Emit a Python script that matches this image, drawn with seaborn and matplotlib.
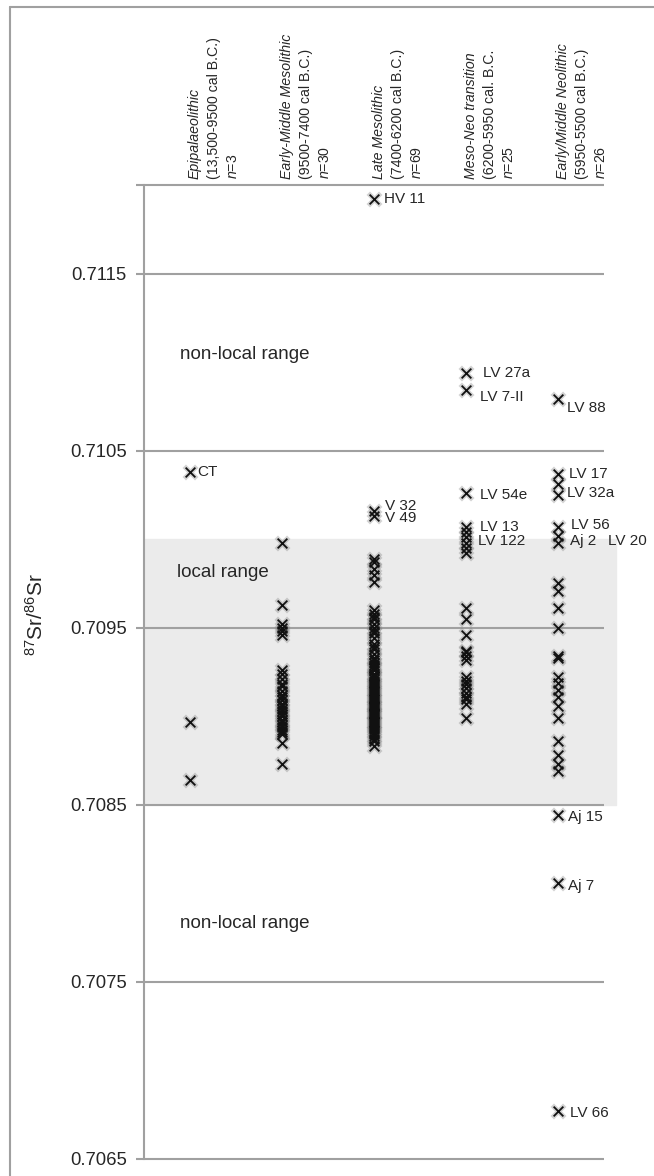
import pandas as pd
import seaborn as sns
import matplotlib.pyplot as plt
from matplotlib.lines import Line2D

# 87Sr/86Sr values per period
periods = ['Epipalaeolithic', 'Early-Middle Mesolithic', 'Late Mesolithic',
           'Meso-Neo transition', 'Early/Middle Neolithic']
dates = ['(13,500-9500 cal B.C.)', '(9500-7400 cal B.C.)', '(7400-6200 cal B.C.)',
         '(6200-5950 cal. B.C.', '(5950-5500 cal B.C.)']
counts = [3, 30, 69, 25, 26]

epipal = [0.71038, 0.70897, 0.70864]
early_meso = [0.70998, 0.70963, 0.70952, 0.70950, 0.70948, 0.70946,
              0.70926, 0.70924, 0.70921, 0.70918, 0.70917, 0.70914, 0.70912, 0.70911,
              0.70909, 0.70907, 0.70906, 0.70904, 0.70903, 0.70901, 0.70900, 0.70898,
              0.70897, 0.70895, 0.70894, 0.70892, 0.70891, 0.70890, 0.70885, 0.70873]
late_meso = [0.71192, 0.71016, 0.71013, 0.70989, 0.70987, 0.70983, 0.70980, 0.70976,
             0.70960, 0.70958, 0.70956, 0.70955, 0.70952, 0.70950, 0.70948, 0.70947, 0.70944, 0.70941,
             0.70939, 0.70938, 0.70935, 0.70933, 0.70932, 0.70930, 0.70929, 0.70927, 0.70926, 0.70924,
             0.70923, 0.70921, 0.70920, 0.70919, 0.70917, 0.70916, 0.70915, 0.70913, 0.70912, 0.70911,
             0.70910, 0.70909, 0.70907, 0.70906, 0.70905, 0.70904, 0.70903, 0.70902, 0.70901, 0.70900,
             0.70899, 0.70898, 0.70897, 0.70896, 0.70895, 0.70894, 0.70893, 0.70891, 0.70890, 0.70889,
             0.70887, 0.70886, 0.70883, 0.70918, 0.70928, 0.70908, 0.70914, 0.70902, 0.70922, 0.70897,
             0.70906]
meso_neo = [0.71094, 0.71084, 0.71026, 0.71007, 0.71004, 0.71001, 0.70998, 0.70995, 0.70992,
            0.70961, 0.70955, 0.70946, 0.70937, 0.70936, 0.70934, 0.70932, 0.70922, 0.70920,
            0.70918, 0.70916, 0.70913, 0.70911, 0.70910, 0.70907, 0.70899]
neolithic = [0.71079, 0.71037, 0.71031, 0.71025, 0.71007, 0.71002, 0.70998, 0.70975, 0.70971,
             0.70961, 0.70950, 0.70934, 0.70933, 0.70922, 0.70919, 0.70915, 0.70911, 0.70906,
             0.70899, 0.70886, 0.70878, 0.70873, 0.70869, 0.70844, 0.70806, 0.70677]

# sample labels: text, period index, label height
label_text = ['HV 11', 'CT', 'V 32', 'V 49', 'LV 27a', 'LV 7-II', 'LV 54e', 'LV 13', 'LV 122',
              'LV 88', 'LV 17', 'LV 32a', 'LV 56', 'Aj 2', 'LV 20', 'Aj 15', 'Aj 7', 'LV 66']
label_period = [2, 0, 2, 2, 3, 3, 3, 3, 3, 4, 4, 4, 4, 4, 4, 4, 4, 4]
label_y = [0.71192, 0.71038, 0.71019, 0.71012, 0.71094, 0.71080, 0.71025, 0.71007, 0.70999,
           0.71074, 0.71037, 0.71026, 0.71008, 0.70999, 0.70999, 0.70843, 0.70804, 0.70676]
label_dx_px = [10, 7, 11, 11, 17, 14, 14, 14, 12, 9, 11, 9, 13, 12, 50, 10, 10, 12]

yticks = [0.7065, 0.7075, 0.7085, 0.7095, 0.7105, 0.7115]
local_range = (0.7085, 0.7100)

rows = []
for p, vals in zip(periods, [epipal, early_meso, late_meso, meso_neo, neolithic]):
    for v in vals:
        rows.append((p, v))
df = pd.DataFrame(rows, columns=['period', 'sr'])

sns.set_style('white')
plt.rcParams['font.family'] = ['Liberation Sans', 'DejaVu Sans']
plt.rcParams['mathtext.fontset'] = 'custom'
plt.rcParams['mathtext.rm'] = 'Liberation Sans'
plt.rcParams['mathtext.it'] = 'Liberation Sans:italic'

grey = '#a0a0a0'
fig = plt.figure(figsize=(6.54, 11.76), dpi=100)
ax = fig.add_axes([0.2202, 0.0145, 0.7034, 0.8282])

# shadow under the crosses, then the crosses
sns.stripplot(data=df, x='period', y='sr', order=periods, jitter=False, marker='x',
              color='#808080', alpha=0.35, size=9, linewidth=3.5, ax=ax, zorder=3)
sns.stripplot(data=df, x='period', y='sr', order=periods, jitter=False, marker='x',
              color='#111111', size=7, linewidth=1.3, ax=ax, zorder=4)

ax.set_xlim(-0.5, 4.5)
ax.set_ylim(0.7065, 0.7120)
ax.axhspan(*local_range, xmin=0, xmax=1.025, color='#ebebeb', zorder=0, clip_on=False)
ax.hlines(yticks + [0.7120], -0.5, 4.5, color=grey, lw=1.5, zorder=1, clip_on=False)

ax.set_yticks(yticks + [0.7120])
ax.set_yticklabels([f'{t:.4f}' for t in yticks] + [''], fontsize=13.3)
ax.tick_params(axis='y', length=6, width=1.5, color=grey, pad=6.5, left=True)
ax.set_xticks([])
ax.set_xlabel('')
ax.set_ylabel('')
for s in ['top', 'right', 'bottom']:
    ax.spines[s].set_visible(False)
ax.spines['left'].set_color(grey)
ax.spines['left'].set_linewidth(1.5)

# header per period (rotated)
for i, (p, d, n) in enumerate(zip(periods, dates, counts)):
    for dx, txt, style in [(5, p, 'italic'), (24, d, 'normal'), (43, f'$n$={n}', 'normal')]:
        ax.annotate(txt, xy=(i, 1.0), xycoords=('data', 'axes fraction'),
                    xytext=(dx * 0.72, 4), textcoords='offset points',
                    rotation=90, ha='center', va='bottom', fontsize=10.2, fontstyle=style)

# sample labels
for t, i, y, dx in zip(label_text, label_period, label_y, label_dx_px):
    ax.annotate(t, xy=(i, y), xytext=(dx * 0.72, 0), textcoords='offset points',
                ha='left', va='center', fontsize=11, annotation_clip=False)

ax.text(-0.11, 0.71104, 'non-local range', fontsize=13.5, va='center')
ax.text(-0.14, 0.70981, 'local range', fontsize=13.5, va='center')
ax.text(-0.11, 0.70783, 'non-local range', fontsize=13.5, va='center')

fig.text(36 / 654, 1 - 614 / 1176, r'$^{87}$Sr/$^{86}$Sr', rotation=90,
         ha='center', va='center', fontsize=15)

# outer frame (left and top edges)
fig.add_artist(Line2D([10 / 654, 10 / 654], [0, 1 - 7 / 1176], color=grey, lw=1.5))
fig.add_artist(Line2D([10 / 654, 1], [1 - 7 / 1176, 1 - 7 / 1176], color=grey, lw=1.5))

fig.savefig('out.png', dpi=100)
